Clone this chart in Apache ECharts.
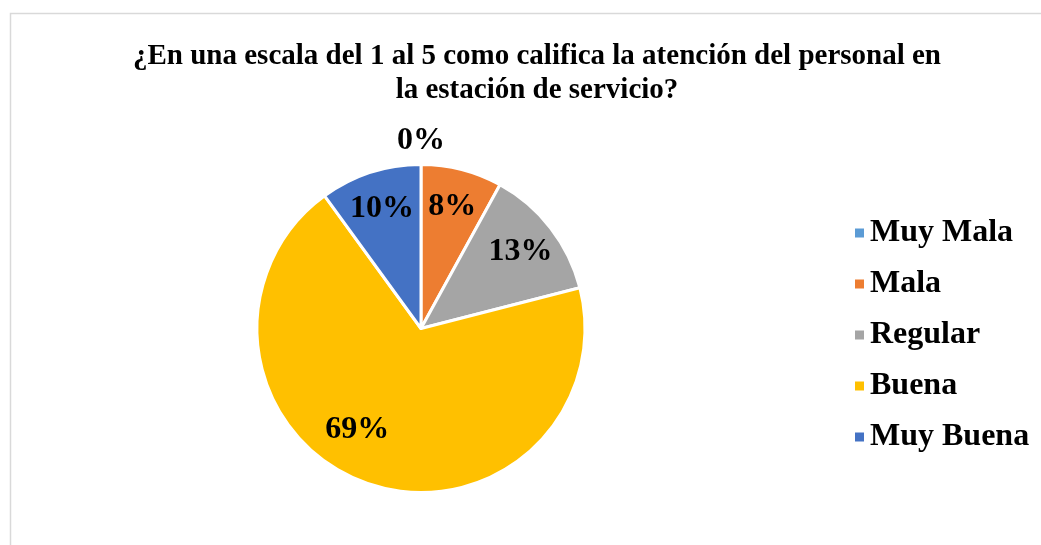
<!DOCTYPE html>
<html>
<head>
<meta charset="utf-8">
<script src="https://cdn.jsdelivr.net/npm/echarts@6/dist/echarts.min.js"></script>
<style>
  html, body { margin: 0; padding: 0; background: #ffffff; }
  #chart { width: 1041px; height: 545px; }
</style>
</head>
<body>
<div id="chart"></div>
<script>
// Survey answers: rating of staff attention at the service station (percent of respondents)
const categories = ['Muy Mala', 'Mala', 'Regular', 'Buena', 'Muy Buena'];
const values = [0, 8, 13, 69, 10];
const colors = ['#5B9BD5', '#ED7D31', '#A5A5A5', '#FFC000', '#4472C4'];
const titleText = '¿En una escala del 1 al 5 como califica la atención del personal en\nla estación de servicio?';

const serif = '"Times New Roman", "Liberation Serif", serif';
const cx = 421, cy = 328.5, R = 164;

const pieData = categories.map((name, i) => ({
  name: name,
  value: values[i],
  itemStyle: { color: colors[i] }
}));

// Transparent ring used only to carry the percentage labels a bit further out
const labelData = categories.map((name, i) => {
  const item = { name: name, value: values[i] };
  if (values[i] === 0) {
    item.label = { position: 'outside', distanceToLabelLine: 0 };
    item.labelLine = { show: false, length: 24, length2: 0 };
  }
  return item;
});

const chart = echarts.init(document.getElementById('chart'), null, { renderer: 'canvas' });

chart.setOption({
  backgroundColor: '#ffffff',
  animation: false,
  graphic: [{
    type: 'rect',
    shape: { x: 10.5, y: 13.5, width: 1100, height: 600 },
    style: { fill: 'none', stroke: '#d9d9d9', lineWidth: 1.5 },
    silent: true,
    z: -10
  }],
  title: {
    text: titleText,
    left: 532,
    top: 35,
    textAlign: 'center',
    textStyle: {
      fontFamily: serif,
      fontWeight: 'bold',
      fontSize: 29,
      lineHeight: 34,
      color: '#000000'
    }
  },
  legend: {
    orient: 'vertical',
    left: 848,
    top: 212,
    data: categories,
    icon: 'rect',
    itemWidth: 11,
    itemHeight: 11,
    itemGap: 19,
    selectedMode: false,
    textStyle: {
      fontFamily: serif,
      fontWeight: 'bold',
      fontSize: 32,
      lineHeight: 32,
      color: '#000000',
      padding: [0, 0, 0, 0]
    }
  },
  series: [
    {
      type: 'pie',
      center: [cx, cy],
      radius: [0, R],
      startAngle: 90,
      clockwise: true,
      silent: true,
      itemStyle: { borderColor: '#ffffff', borderWidth: 3 },
      label: { show: false },
      labelLine: { show: false },
      data: pieData
    },
    {
      type: 'pie',
      center: [cx, cy],
      radius: [R * 0.5, R],
      startAngle: 90,
      clockwise: true,
      silent: true,
      legendHoverLink: false,
      itemStyle: { color: 'rgba(0,0,0,0)', borderWidth: 0 },
      label: {
        show: true,
        position: 'inside',
        formatter: p => Math.round(p.percent) + '%',
        fontFamily: serif,
        fontWeight: 'bold',
        fontSize: 32,
        color: '#000000'
      },
      labelLine: { show: false },
      labelLayout: function (p) {
        if (p.dataIndex === 0) return { align: 'center' };
        if (p.dataIndex === 3) return { dx: -21, dy: -17 };
        return {};
      },
      data: labelData
    }
  ]
});
</script>
</body>
</html>
